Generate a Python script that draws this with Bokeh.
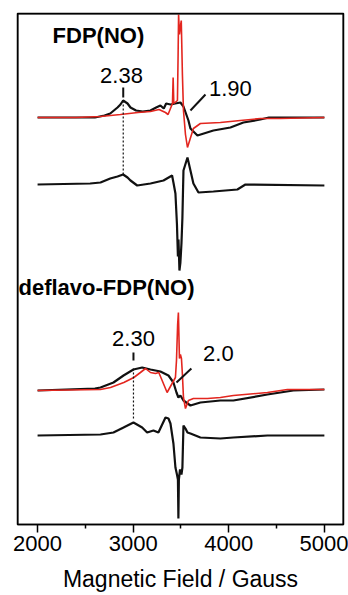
from bokeh.plotting import figure
from bokeh.models import Range1d, FixedTicker, Label, Span
from bokeh.embed import file_html
from bokeh.resources import INLINE

# ---------------- data (field in Gauss, signal in arbitrary units) ----------------
# FDP(NO) panel, upper black spectrum
fdp_top_black_field = [2000, 2600, 2700, 2760, 2836, 2867, 2895, 2941, 2972, 3030, 3100, 3181, 3240,
                       3285, 3320, 3345, 3390, 3440, 3494, 3526, 3578, 3599, 3672, 3839, 4017,
                       4153, 4330, 4420, 5000]
fdp_top_black_signal = [407, 407, 409, 411, 417, 420, 424, 421, 417, 414, 413, 414, 417,
                        419, 416, 421, 420, 421, 422, 418, 404, 396, 389, 394, 397,
                        402, 405, 407, 407]

# FDP(NO) panel, upper red spectrum
fdp_top_red_field = [2000, 2400, 2658, 2867, 3050, 3181, 3270, 3338, 3365, 3390, 3411, 3418, 3425,
                     3463, 3470, 3475, 3484, 3494, 3503, 3515, 3526, 3547, 3568, 3630, 3703,
                     3912, 4121, 4330, 4539, 5000]
fdp_top_red_signal = [407, 407, 408, 410, 412, 413, 415, 412, 410, 416, 421, 447, 421,
                      424, 470, 510, 490, 498, 504, 450, 414, 390, 377, 396, 401,
                      402, 404, 406, 406, 407]

# FDP(NO) panel, lower black spectrum
fdp_low_black_field = [2000, 2550, 2658, 2760, 2836, 2895, 2941, 2972, 3042, 3181, 3317, 3407, 3421,
                       3442, 3458, 3468, 3474, 3484, 3494, 3505, 3515, 3526, 3568, 3599, 3630,
                       3683, 3839, 4090, 4174, 5000]
fdp_low_black_signal = [340, 341, 342, 346, 348, 350, 347, 344, 339, 341, 344, 349, 342,
                        331, 300, 268, 285, 254, 262, 281, 307, 354, 367, 354, 341,
                        332, 333, 335, 340, 339]

# deflavo-FDP(NO) panel, upper black spectrum
dfl_top_black_field = [2000, 2600, 2658, 2794, 2899, 3003, 3094, 3181, 3285, 3369, 3421, 3453, 3473,
                       3494, 3526, 3599, 3703, 3912, 4048, 4404, 4675, 5000]
dfl_top_black_signal = [134, 136, 137, 142, 149, 155, 157, 155, 153, 149, 142, 132, 127,
                        129, 124, 119, 122, 124, 124, 130, 134, 135]

# deflavo-FDP(NO) panel, upper red spectrum
dfl_top_red_field = [2000, 2658, 2763, 2902, 3007, 3076, 3129, 3181, 3233, 3268, 3303, 3355, 3407,
                     3442, 3453, 3465, 3473, 3484, 3494, 3505, 3515, 3526, 3547, 3578, 3630,
                     3777, 3912, 4048, 4404, 4613, 5000]
dfl_top_red_signal = [134, 135, 137, 142, 147, 152, 156, 152, 151, 152, 144, 132, 141,
                      147, 164, 200, 212, 166, 170, 166, 150, 127, 116, 124, 126,
                      126, 127, 129, 132, 135, 135]

# deflavo-FDP(NO) panel, lower black spectrum
dfl_low_black_field = [2000, 2658, 2794, 2899, 3003, 3094, 3146, 3212, 3264, 3338, 3369, 3390, 3421,
                       3442, 3458, 3468, 3473, 3478, 3490, 3505, 3515, 3526, 3547, 3568, 3599,
                       3703, 3912, 4048, 4404, 5000]
dfl_low_black_signal = [89, 90, 92, 97, 102, 97, 92, 94, 92, 107, 106, 101, 81,
                        57, 50, 45, 6, 45, 55, 50, 57, 99, 96, 92, 91,
                        87, 86, 87, 89, 89]

x_tick_values = [2000, 3000, 4000, 5000]
x_minor_values = [2500, 3500, 4500]
x_title = "Magnetic Field / Gauss"

RED = "#e3261f"
BLACK = "#111111"

X0, X1, Y0, Y1 = 1790, 5200, 0, 511

p = figure(width=348, height=595, x_range=Range1d(X0, X1), y_range=Range1d(Y0, Y1),
           output_backend="svg", toolbar_location=None, y_axis_location=None,
           min_border_left=17, min_border_right=5, min_border_top=13, min_border_bottom=71)
p.xgrid.visible = False
p.ygrid.visible = False
p.outline_line_color = "black"
p.outline_line_width = 1.5
p.outline_line_alpha = 1.0
p.background_fill_color = "white"
p.border_fill_color = "white"

ax = p.below[0]
ax.ticker = FixedTicker(ticks=x_tick_values, minor_ticks=x_minor_values)
ax.major_tick_in = 0
ax.major_tick_out = 8
ax.minor_tick_in = 0
ax.minor_tick_out = 4
ax.major_tick_line_width = 1.5
ax.minor_tick_line_width = 1.5
ax.axis_line_width = 1.5
ax.major_label_text_font = "Liberation Sans"
ax.major_label_text_font_size = "22px"
ax.major_label_text_color = "black"
ax.major_label_standoff = 3
ax.axis_label = x_title
ax.axis_label_text_font = "Liberation Sans"
ax.axis_label_text_font_style = "normal"
ax.axis_label_text_font_size = "23px"
ax.axis_label_text_color = "black"
ax.axis_label_standoff = 12

# frame lines (range limits)
p.add_layout(Span(location=X0, dimension="height", line_color="black", line_width=2))
p.add_layout(Span(location=X1, dimension="height", line_color="black", line_width=2))
p.add_layout(Span(location=Y1, dimension="width", line_color="black", line_width=2))

# spectra
p.line(fdp_top_black_field, fdp_top_black_signal, line_color=BLACK, line_width=2.2)
p.line(fdp_top_red_field, fdp_top_red_signal, line_color=RED, line_width=1.6)
p.line(fdp_low_black_field, fdp_low_black_signal, line_color=BLACK, line_width=2.2)
p.line(dfl_top_black_field, dfl_top_black_signal, line_color=BLACK, line_width=2.2)
p.line(dfl_top_red_field, dfl_top_red_signal, line_color=RED, line_width=1.6)
p.line(dfl_low_black_field, dfl_low_black_signal, line_color=BLACK, line_width=2.2)

# markers (g-values)
p.line([2896, 2896], [424, 350], line_color=BLACK, line_width=1.2, line_dash="2 2")
p.line([2896, 2896], [427, 437], line_color=BLACK, line_width=2)
p.line([3599, 3756], [414, 430], line_color=BLACK, line_width=2)
p.line([3003, 3003], [156, 106], line_color=BLACK, line_width=1.2, line_dash="2 2")
p.line([3003, 3003], [164, 172], line_color=BLACK, line_width=2)
p.line([3453, 3609], [142, 156], line_color=BLACK, line_width=2)

def lab(x, y, t, size, bold=False, align="center"):
    p.add_layout(Label(x=x, y=y, text=t, text_font="Liberation Sans", text_font_size=size,
                       text_font_style="bold" if bold else "normal", text_align=align,
                       text_baseline="middle", text_color="black"))

lab(2157, 489, "FDP(NO)", "22px", bold=True, align="left")
lab(1800, 237, "deflavo-FDP(NO)", "22px", bold=True, align="left")
lab(2878, 449, "2.38", "22px")
lab(4017, 436, "1.90", "22px")
lab(3003, 186, "2.30", "22px")
lab(3891, 171, "2.0", "22px")

open("out.html", "w").write(file_html(p, INLINE))
